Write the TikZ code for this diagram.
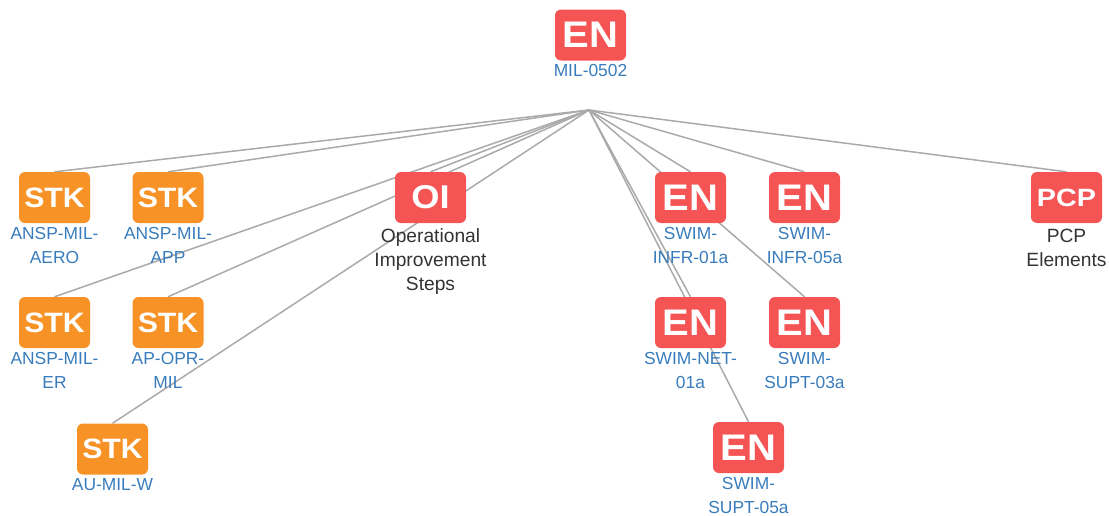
\documentclass[tikz,border=0pt]{standalone}
\usepackage{fontspec}
\usepackage{graphicx}
\setmainfont{Liberation Sans}
\usetikzlibrary{backgrounds}
\definecolor{enred}{RGB}{245,84,84}
\definecolor{stkorange}{RGB}{247,147,38}
\definecolor{lblblue}{RGB}{56,124,189}
\definecolor{edgegray}{RGB}{170,170,170}
\definecolor{lbldark}{RGB}{51,51,51}
\newcommand\widetxt[2]{\scalebox{#1}[1]{#2}}
\tikzset{
  box/.style={rectangle, rounded corners=6pt, minimum width=71pt, minimum height=51pt, inner sep=0pt, text=white},
  enbox/.style={box, fill=enred, font=\bfseries\fontsize{37}{37}\selectfont},
  stkbox/.style={box, fill=stkorange, font=\bfseries\fontsize{28}{28}\selectfont},
  oibox/.style={box, fill=enred, font=\bfseries\fontsize{33}{33}\selectfont},
  pcpbox/.style={box, fill=enred, font=\bfseries\fontsize{25}{25}\selectfont},
  lbl/.style={anchor=north, align=center, inner sep=0pt, text=lblblue, font=\fontsize{17.4}{24}\selectfont, yshift=-3.5pt},
  lbldk/.style={lbl, text=lbldark, font=\fontsize{19.2}{24}\selectfont, yshift=-2pt},
  edge/.style={draw=edgegray, line width=1.5pt}
}
\begin{document}
\begin{tikzpicture}[x=1pt,y=-1pt]
\useasboundingbox (0,0) rectangle (1109,515);
% boxes
\node[enbox] (top) at (590.5,35) {\widetxt{1.08}{EN}};
\node[lbl] (toplbl) at (top.south) {MIL-0502};
\coordinate (hub) at (589,110);

\node[stkbox] (aero) at (54.5,197.5) {\widetxt{1.08}{STK}};
\node[lbl] (aerolbl) at (aero.south) {ANSP-MIL-\\AERO};
\node[stkbox] (app) at (168,197.5) {\widetxt{1.08}{STK}};
\node[lbl] (applbl) at (app.south) {ANSP-MIL-\\APP};
\node[oibox] (oi) at (430.5,197.5) {\widetxt{1.1}{OI}};
\node[lbldk] (oilbl) at (oi.south) {Operational\\Improvement\\Steps};
\node[enbox] (infr1) at (690.5,197.5) {\widetxt{1.08}{EN}};
\node[lbl] (infr1lbl) at (infr1.south) {SWIM-\\INFR-01a};
\node[enbox] (infr5) at (804.5,197.5) {\widetxt{1.08}{EN}};
\node[lbl] (infr5lbl) at (infr5.south) {SWIM-\\INFR-05a};
\node[pcpbox] (pcp) at (1066.5,197.5) {\widetxt{1.15}{PCP}};
\node[lbldk] (pcplbl) at (pcp.south) {PCP\\Elements};

\node[stkbox] (er) at (54.5,322.5) {\widetxt{1.08}{STK}};
\node[lbl] (erlbl) at (er.south) {ANSP-MIL-\\ER};
\node[stkbox] (opr) at (168,322.5) {\widetxt{1.08}{STK}};
\node[lbl] (oprlbl) at (opr.south) {AP-OPR-\\MIL};
\node[enbox] (net) at (690.5,322.5) {\widetxt{1.08}{EN}};
\node[lbl] (netlbl) at (net.south) {SWIM-NET-\\01a};
\node[enbox] (supt3) at (804.5,322.5) {\widetxt{1.08}{EN}};
\node[lbl] (supt3lbl) at (supt3.south) {SWIM-\\SUPT-03a};

\node[stkbox] (auw) at (112.5,449) {\widetxt{1.08}{STK}};
\node[lbl] (auwlbl) at (auw.south) {AU-MIL-W};
\node[enbox] (supt5) at (748.5,447.5) {\widetxt{1.08}{EN}};
\node[lbl] (supt5lbl) at (supt5.south) {SWIM-\\SUPT-05a};

\begin{pgfonlayer}{background}
\foreach \n in {aero,app,oi,infr1,infr5,pcp,er,opr,net,supt3,auw,supt5}
  \draw[edge] (hub) -- (\n.north);
\end{pgfonlayer}
\end{tikzpicture}
\end{document}
